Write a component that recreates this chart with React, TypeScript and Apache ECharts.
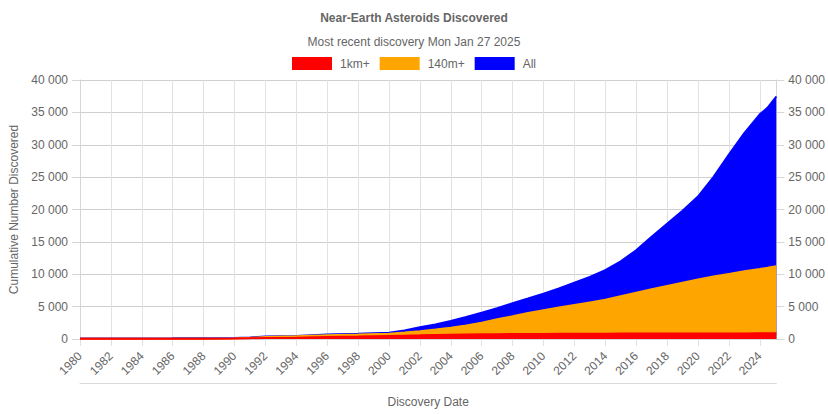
import React, { useEffect, useRef } from "react";
import * as echarts from "echarts";

// Decimal year of each sample (last one = Mon Jan 27 2025)
const years = [
  1980, 1982, 1984, 1986, 1988, 1990, 1991, 1992, 1994, 1996, 1998, 2000,
  2001, 2002, 2003, 2004, 2005, 2006, 2007, 2008, 2009, 2010, 2011, 2012,
  2013, 2014, 2015, 2016, 2017, 2018, 2019, 2020, 2021, 2022, 2023, 2024,
  2024.5, 2025.07,
];

const allNEAs = [
  60, 70, 85, 100, 125, 170, 250, 380, 480, 680, 800, 950,
  1300, 1800, 2250, 2780, 3400, 4060, 4750, 5510, 6250, 7000, 7800, 8700,
  9600, 10650, 12000, 13700, 15800, 17800, 19800, 22000, 25000, 28500, 31800, 34700,
  35700, 37450,
];

const neas140m = [
  20, 25, 30, 40, 55, 90, 180, 300, 420, 560, 680, 820,
  1000, 1200, 1450, 1750, 2100, 2500, 3050, 3500, 4000, 4450, 4850, 5250,
  5650, 6050, 6600, 7150, 7680, 8200, 8700, 9200, 9650, 10050, 10450, 10800,
  11000, 11250,
];

const neas1km = [
  25, 30, 35, 45, 55, 80, 120, 160, 210, 300, 380, 480,
  520, 560, 610, 650, 690, 720, 740, 760, 775, 790, 800, 810,
  820, 830, 838, 845, 850, 855, 858, 861, 864, 866, 868, 870,
  871, 872,
];

const yTicks = { min: 0, max: 40000, interval: 5000 };
const xRange = { min: 1980, max: 2025.07, interval: 2 };

const titleText = "Near-Earth Asteroids Discovered";
const subtitleText = "Most recent discovery Mon Jan 27 2025";
const seriesNames = ["1km+", "140m+", "All"];
const seriesColors = ["#ff0000", "#ffa500", "#0000ff"];

const FONT = "'Liberation Sans', Arial, Helvetica, sans-serif";
const TXT = "#666666";

const fmtThousands = (v: number) =>
  String(Math.round(v)).replace(/\B(?=(\d{3})+(?!\d))/g, " ");

function pairs(vals: number[]) {
  return years.map((y, i) => [y, vals[i]]);
}

export default function App() {
  const ref = useRef<HTMLDivElement>(null);

  useEffect(() => {
    if (!ref.current) return;
    const chart = echarts.init(ref.current, null, { renderer: "svg" });
    const values = [neas1km, neas140m, allNEAs];

    const yAxisBase = {
      type: "value",
      min: yTicks.min,
      max: yTicks.max,
      interval: yTicks.interval,
      axisLine: { show: true, lineStyle: { color: "#d6d6d6" } },
      axisTick: { show: true, length: 8, lineStyle: { color: "#d6d6d6" } },
      axisLabel: {
        color: TXT,
        fontSize: 12,
        fontFamily: FONT,
        margin: 12,
        formatter: fmtThousands,
      },
    };

    chart.setOption({
      animation: false,
      textStyle: { fontFamily: FONT },
      title: [
        {
          text: titleText,
          left: "center",
          top: 7,
          textStyle: { color: TXT, fontSize: 12, fontWeight: "bold", fontFamily: FONT },
        },
        {
          text: subtitleText,
          left: "center",
          top: 31,
          textStyle: { color: TXT, fontSize: 12, fontWeight: "normal", fontFamily: FONT },
        },
      ],
      legend: {
        data: seriesNames,
        top: 52,
        left: "center",
        itemWidth: 40,
        itemHeight: 13,
        itemGap: 10,
        icon: "rect",
        textStyle: { color: TXT, fontSize: 12, fontFamily: FONT, padding: [0, 0, 0, 3] },
      },
      grid: { left: 73, right: 51, top: 80, bottom: 75, containLabel: false },
      xAxis: [
        {
          type: "value",
          min: xRange.min,
          max: xRange.max,
          interval: xRange.interval,
          name: "Discovery Date",
          nameLocation: "middle",
          nameGap: 57,
          nameTextStyle: { color: TXT, fontSize: 12, fontFamily: FONT },
          axisLine: { show: true, lineStyle: { color: "#d6d6d6" } },
          axisTick: { show: true, length: 7, lineStyle: { color: "#e0e0e0" } },
          splitLine: { show: true, lineStyle: { color: "#e2e2e2", width: 1 } },
          axisLabel: {
            color: TXT,
            fontSize: 12,
            fontFamily: FONT,
            rotate: 45,
            margin: 15,
            showMaxLabel: false,
            formatter: (v: number) => String(Math.round(v)),
          },
        },
        {
          type: "value",
          position: "bottom",
          offset: 44,
          min: xRange.min,
          max: xRange.max,
          show: true,
          axisLine: { show: true, onZero: false, lineStyle: { color: "#d9d9d9", width: 1 } },
          axisTick: { show: false },
          axisLabel: { show: false },
          splitLine: { show: false },
        },
      ],
      yAxis: [
        {
          ...yAxisBase,
          position: "left",
          name: "Cumulative Number Discovered",
          nameLocation: "middle",
          nameGap: 60,
          nameRotate: 90,
          nameTextStyle: { color: TXT, fontSize: 12, fontFamily: FONT },
          splitLine: { show: true, lineStyle: { color: "#cfcfcf", width: 1 } },
        },
        {
          ...yAxisBase,
          position: "right",
          splitLine: { show: false },
        },
      ],
      series: [2, 1, 0].map((i) => ({
        name: seriesNames[i],
        type: "line",
        xAxisIndex: 0,
        yAxisIndex: 0,
        data: pairs(values[i]),
        showSymbol: false,
        symbol: "none",
        smooth: false,
        lineStyle: { color: seriesColors[i], width: 2 },
        itemStyle: { color: seriesColors[i] },
        areaStyle: { color: seriesColors[i], opacity: 1 },
      })),
    });

    return () => chart.dispose();
  }, []);

  return (
    <div
      ref={ref}
      style={{ position: "fixed", left: 0, top: 0, width: 828, height: 414, background: "#fff" }}
    />
  );
}
